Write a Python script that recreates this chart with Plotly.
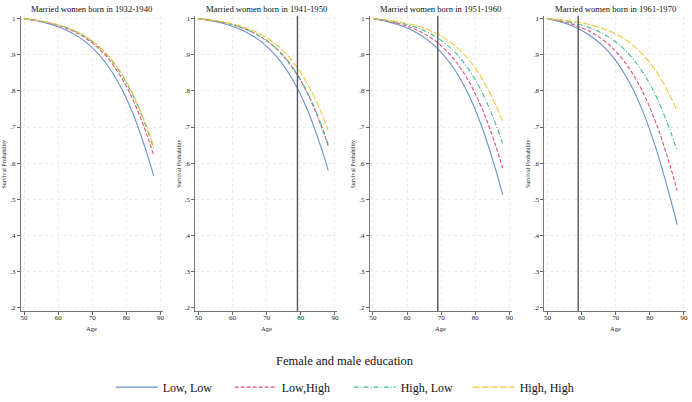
import plotly.graph_objects as go

ages = [50, 54, 58, 62, 66, 70, 74, 78, 82, 86, 88]

cohorts = ["1932-1940", "1941-1950", "1951-1960", "1961-1970"]
vline_age = [None, 79, 69, 59]

series_names = ["Low, Low", "Low,High", "High, Low", "High, High"]

# cohort 1932-1940
c1_low_low = [1, 0.9936, 0.9841, 0.9701, 0.9496, 0.9199, 0.8772, 0.8172, 0.7353, 0.6280, 0.565]
c1_low_high = [1, 0.9947, 0.9868, 0.9751, 0.9579, 0.9329, 0.8968, 0.8454, 0.7743, 0.6791, 0.622]
c1_high_low = [1, 0.9950, 0.9876, 0.9766, 0.9604, 0.9369, 0.9027, 0.8541, 0.7864, 0.6953, 0.640]
c1_high_high = [1, 0.9951, 0.9878, 0.9771, 0.9612, 0.9381, 0.9046, 0.8569, 0.7903, 0.7005, 0.646]
# cohort 1941-1950
c2_low_low = [1, 0.9939, 0.9848, 0.9715, 0.9519, 0.9234, 0.8825, 0.8248, 0.7457, 0.6415, 0.580]
c2_low_high = [1, 0.9951, 0.9879, 0.9772, 0.9615, 0.9385, 0.9053, 0.8578, 0.7917, 0.7022, 0.648]
c2_high_low = [1, 0.9952, 0.9881, 0.9775, 0.9620, 0.9394, 0.9065, 0.8597, 0.7943, 0.7057, 0.652]
c2_high_high = [1, 0.9958, 0.9897, 0.9805, 0.9670, 0.9472, 0.9184, 0.8771, 0.8189, 0.7392, 0.690]
# cohort 1951-1960
c3_low_low = [1, 0.9925, 0.9815, 0.9652, 0.9414, 0.9070, 0.8581, 0.7899, 0.6982, 0.5807, 0.513]
c3_low_high = [1, 0.9940, 0.9851, 0.9720, 0.9528, 0.9248, 0.8846, 0.8279, 0.7499, 0.6470, 0.586]
c3_high_low = [1, 0.9952, 0.9882, 0.9777, 0.9623, 0.9398, 0.9072, 0.8606, 0.7956, 0.7075, 0.654]
c3_high_high = [1, 0.9962, 0.9906, 0.9823, 0.9700, 0.9519, 0.9256, 0.8877, 0.8341, 0.7600, 0.714]
# cohort 1961-1970
c4_low_low = [1, 0.9905, 0.9766, 0.9562, 0.9265, 0.8839, 0.8240, 0.7421, 0.6349, 0.5029, 0.430]
c4_low_high = [1, 0.9928, 0.9820, 0.9663, 0.9432, 0.9098, 0.8622, 0.7958, 0.7061, 0.5907, 0.524]
c4_high_low = [1, 0.9949, 0.9873, 0.9760, 0.9595, 0.9354, 0.9005, 0.8508, 0.7818, 0.6891, 0.633]
c4_high_high = [1, 0.9967, 0.9917, 0.9843, 0.9735, 0.9575, 0.9341, 0.9003, 0.8521, 0.7850, 0.743]

panel_data = [
    [c1_low_low, c1_low_high, c1_high_low, c1_high_high],
    [c2_low_low, c2_low_high, c2_high_low, c2_high_high],
    [c3_low_low, c3_low_high, c3_high_low, c3_high_high],
    [c4_low_low, c4_low_high, c4_high_low, c4_high_high],
]

x_ticks = [50, 60, 70, 80, 90]
y_ticks = [0.2, 0.3, 0.4, 0.5, 0.6, 0.7, 0.8, 0.9, 1.0]
y_ticktext = [".2", ".3", ".4", ".5", ".6", ".7", ".8", ".9", "1"]

colors = ["#6a90cc", "#e0507a", "#3dbb8c", "#f0c83c"]
dashes = ["solid", "4px,2px", "5px,2px,1px,2px", "7px,2px"]

W, H = 692, 402
FONT = "Liberation Serif"

fig = go.Figure()

panel_left = [21, 196, 371, 546]
panel_w = 142
top_px, bot_px = 15, 315
ydom = [(H - bot_px) / H, (H - top_px) / H]

layout = dict(
    width=W, height=H,
    margin=dict(l=0, r=0, t=0, b=0),
    paper_bgcolor="white", plot_bgcolor="white",
    font=dict(family=FONT, color="#222"),
    showlegend=True,
)

annotations = []
shapes = []

for p in range(4):
    xa = "x" if p == 0 else f"x{p+1}"
    ya = "y" if p == 0 else f"y{p+1}"
    xkey = "xaxis" if p == 0 else f"xaxis{p+1}"
    ykey = "yaxis" if p == 0 else f"yaxis{p+1}"
    x0 = panel_left[p] / W
    x1 = (panel_left[p] + panel_w) / W
    layout[xkey] = dict(
        domain=[x0, x1], anchor=ya, range=[49.1, 90.6],
        tickvals=x_ticks, ticks="outside", ticklen=3, tickcolor="#666",
        ticklabelstandoff=-4,
        tickfont=dict(size=7, family=FONT, color="#222"),
        showline=True, linecolor="#777", linewidth=1,
        showgrid=True, gridcolor="#ececec", griddash="dot", gridwidth=1,
        zeroline=False, fixedrange=True,
    )
    layout[ykey] = dict(
        domain=ydom, anchor=xa, range=[0.19, 1.008],
        tickvals=y_ticks, ticktext=y_ticktext, ticks="outside", ticklen=3,
        tickcolor="#666", tickfont=dict(size=7, family=FONT, color="#222"),
        showline=True, linecolor="#777", linewidth=1,
        showgrid=True, gridcolor="#ececec", griddash="dot", gridwidth=1,
        zeroline=False, fixedrange=True,
    )
    for s in range(4):
        fig.add_trace(go.Scatter(
            x=ages, y=panel_data[p][s], mode="lines",
            line=dict(color=colors[s], width=1.1, dash=dashes[s], shape="spline"),
            name=series_names[s], legendgroup=series_names[s],
            showlegend=(p == 0), xaxis=xa, yaxis=ya,
        ))
    if vline_age[p] is not None:
        shapes.append(dict(
            type="line", xref=xa, yref=f"{ya} domain",
            x0=vline_age[p], x1=vline_age[p], y0=0, y1=1,
            line=dict(color="#555", width=1.4),
        ))
    cx = (panel_left[p] + panel_w / 2) / W
    annotations.append(dict(
        text=f"Married women born in {cohorts[p]}", xref="paper", yref="paper",
        x=cx, y=(H - 8) / H, xanchor="center", yanchor="middle",
        showarrow=False, font=dict(size=8.6, family=FONT, color="#111"),
    ))
    annotations.append(dict(
        text="Age", xref="paper", yref="paper",
        x=cx, y=(H - 332) / H, xanchor="center", yanchor="middle",
        showarrow=False, font=dict(size=6.5, family=FONT, color="#222"),
    ))
    annotations.append(dict(
        text="Survival Probability", xref="paper", yref="paper",
        x=(panel_left[p] - 17) / W, y=(ydom[0] + ydom[1]) / 2,
        xanchor="center", yanchor="middle", textangle=-90,
        showarrow=False, font=dict(size=6, family=FONT, color="#222"),
    ))

annotations.append(dict(
    text="Female and male education", xref="paper", yref="paper",
    x=0.5, y=(H - 365) / H, xanchor="center", yanchor="middle",
    showarrow=False, font=dict(size=12.5, family=FONT, color="#111"),
))

layout["annotations"] = annotations
layout["shapes"] = shapes
layout["legend"] = dict(
    orientation="h", x=111 / W, xanchor="left", y=(H - 392) / H, yanchor="middle",
    font=dict(size=12, family=FONT, color="#111"),
    entrywidth=62, entrywidthmode="pixels", itemwidth=42,
    bgcolor="rgba(0,0,0,0)", tracegroupgap=0,
)

fig.update_layout(**layout)
fig.write_html("out.html")
